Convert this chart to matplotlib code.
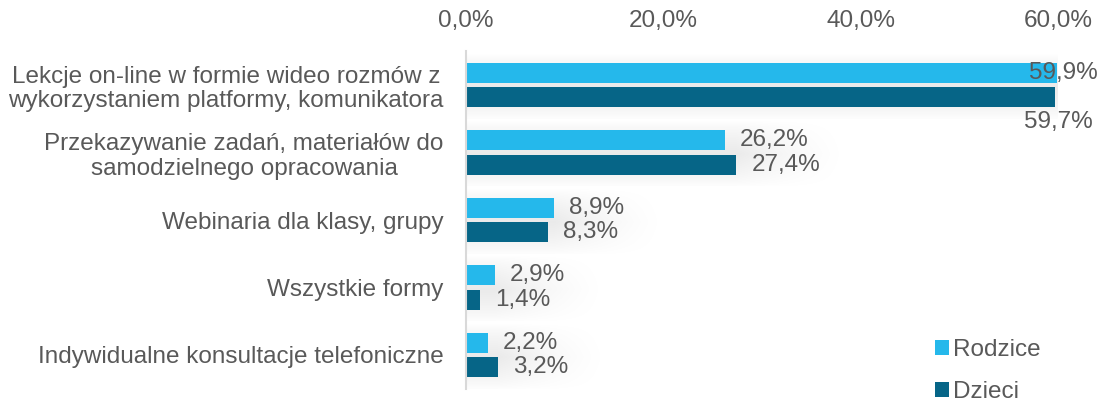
import numpy as np
import matplotlib
matplotlib.use("Agg")
import matplotlib.pyplot as plt

plt.rcParams['font.family'] = ['Liberation Sans', 'DejaVu Sans']

categories = [
    "Lekcje on-line w formie wideo rozmów z\nwykorzystaniem platformy, komunikatora",
    "Przekazywanie zadań, materiałów do\nsamodzielnego opracowania",
    "Webinaria dla klasy, grupy",
    "Wszystkie formy",
    "Indywidualne konsultacje telefoniczne",
]
rodzice = [59.9, 26.2, 8.9, 2.9, 2.2]
dzieci = [59.7, 27.4, 8.3, 1.4, 3.2]
series_names = ["Rodzice", "Dzieci"]
xticks = [0, 20, 40, 60]
xtick_labels = ["0,0%", "20,0%", "40,0%", "60,0%"]

C_R = "#25B8EB"
C_D = "#066587"
TXT = "#595959"
FS = 17.5

fig = plt.figure(figsize=(10.97, 4.01), dpi=100)
ax = fig.add_axes([466 / 1097, 1 - 388.75 / 401, (1058 - 466) / 1097, 337.5 / 401])

y = np.arange(len(categories))
h = 0.296
off = 0.178

# soft shadow behind each group
for i in range(len(categories)):
    vmax = max(rodzice[i], dzieci[i])
    ext = 12.0
    nx, ny = 300, 60
    xs = np.linspace(0, vmax + ext, nx)
    ys = np.linspace(-0.5, 0.5, ny)
    fx = np.clip(1 - (xs - vmax) / ext, 0, 1)
    fx = np.where(xs <= vmax, 1.0, fx) ** 1.5
    fy = np.clip(1 - np.abs(ys - 0.03) / 0.5, 0, 1) ** 0.7
    a = 0.085 * np.outer(fy, fx)
    img = np.zeros((ny, nx, 4))
    img[..., 3] = a
    ax.imshow(img, extent=[0, vmax + ext, y[i] + 0.5, y[i] - 0.5],
              aspect='auto', zorder=0.5, interpolation='bilinear')

ax.barh(y - off, rodzice, height=h, color=C_R, zorder=2, label=series_names[0])
ax.barh(y + off, dzieci, height=h, color=C_D, zorder=2, label=series_names[1])

for i in range(len(categories)):
    vr, vd = rodzice[i], dzieci[i]
    lr = f"{vr:.1f}".replace(".", ",") + "%"
    ld = f"{vd:.1f}".replace(".", ",") + "%"
    if vr + 8 > 60:
        ax.annotate(lr, (vr, y[i] - off), xytext=(29, 0), textcoords='offset points',
                    ha='right', va='center', fontsize=FS, color=TXT, zorder=3)
    else:
        ax.annotate(lr, (vr, y[i] - off), xytext=(11, 0), textcoords='offset points',
                    ha='left', va='center', fontsize=FS, color=TXT, zorder=3)
    if vd + 8 > 60:
        ax.annotate(ld, (vd, y[i] + off), xytext=(27, -18), textcoords='offset points',
                    ha='right', va='center', fontsize=FS, color=TXT, zorder=3)
    else:
        ax.annotate(ld, (vd, y[i] + off), xytext=(11, 0), textcoords='offset points',
                    ha='left', va='center', fontsize=FS, color=TXT, zorder=3)

ax.set_xlim(0, 60)
ax.set_ylim(len(categories) - 0.5, -0.5)
ax.set_xticks(xticks)
ax.set_xticklabels(xtick_labels)
ax.xaxis.tick_top()
ax.tick_params(axis='x', length=0, pad=14, labelsize=FS, labelcolor=TXT)
ax.set_yticks(y)
ax.set_yticklabels(categories, multialignment='center', linespacing=1.15)
ax.tick_params(axis='y', length=0, pad=16, labelsize=FS, labelcolor=TXT)
for s in ['top', 'right', 'bottom']:
    ax.spines[s].set_visible(False)
ax.spines['left'].set_color('#D9D9D9')
ax.spines['left'].set_linewidth(1.5)
ax.spines['left'].set_zorder(4)
ax.set_facecolor('none')

leg = fig.legend(loc='upper left', bbox_to_anchor=(923 / 1097, 1 - 327 / 401),
                 frameon=False, fontsize=FS, labelcolor=TXT,
                 handlelength=0.55, handleheight=0.55, handletextpad=0.2,
                 labelspacing=0.82, borderpad=0)

fig.savefig("out.png", dpi=100)
